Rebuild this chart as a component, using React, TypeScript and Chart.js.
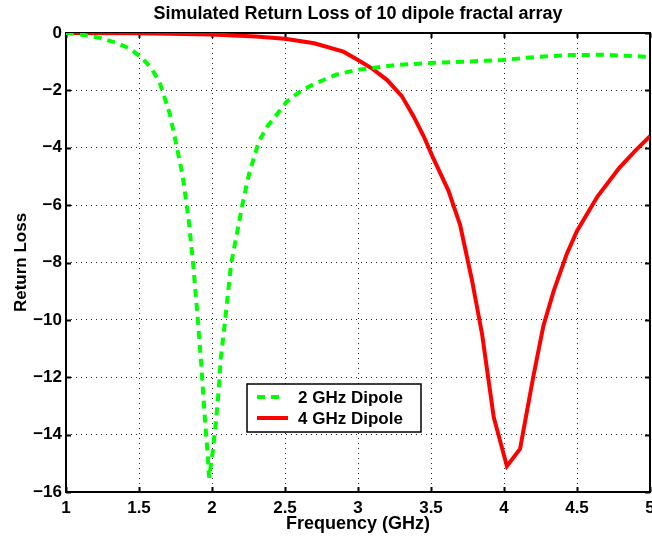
import React, { useEffect, useRef } from "react";
import { Chart, registerables } from "chart.js";

Chart.register(...registerables);

const chartTitle = "Simulated Return Loss of 10 dipole fractal array";
const xTitle = "Frequency (GHz)";
const yTitle = "Return Loss";
const xTicks = [1, 1.5, 2, 2.5, 3, 3.5, 4, 4.5, 5];
const yTicks = [-16, -14, -12, -10, -8, -6, -4, -2, 0];

const label2GHz = "2 GHz Dipole";
const freq2GHz = [
  1.0, 1.1, 1.23, 1.35, 1.44, 1.52, 1.58, 1.64, 1.71, 1.76, 1.8, 1.84, 1.87,
  1.9, 1.925, 1.94, 1.955, 1.97, 1.98, 2.005, 2.027, 2.046, 2.06, 2.084, 2.107,
  2.13, 2.169, 2.21, 2.255, 2.32, 2.38, 2.45, 2.51, 2.6, 2.69, 2.85, 2.99,
  3.27, 3.49, 3.72, 3.99, 4.23, 4.45, 4.68, 5.0,
];
const loss2GHz = [
  0, -0.05, -0.17, -0.35, -0.55, -0.87, -1.2, -1.7, -2.8, -4.0, -5.0, -6.5,
  -8.0, -9.8, -11.45, -12.6, -13.7, -14.64, -15.5, -14.6, -13.54, -12.44,
  -11.34, -10.29, -9.19, -8.08, -7.04, -5.93, -4.89, -3.79, -3.25, -2.8, -2.4,
  -2.05, -1.8, -1.45, -1.29, -1.11, -1.05, -1.0, -0.94, -0.83, -0.77, -0.76,
  -0.83,
];

const label4GHz = "4 GHz Dipole";
const freq4GHz = [
  1.0, 1.5, 2.0, 2.3, 2.5, 2.7, 2.9, 3.0, 3.1, 3.2, 3.3, 3.38, 3.45, 3.51,
  3.62, 3.7, 3.78, 3.85, 3.93, 4.02, 4.11, 4.2, 4.27, 4.34, 4.43, 4.5, 4.64,
  4.79, 4.9, 5.0,
];
const loss4GHz = [
  0, -0.01, -0.05, -0.12, -0.2, -0.36, -0.65, -0.94, -1.25, -1.64, -2.2, -2.9,
  -3.6, -4.3, -5.5, -6.7, -8.6, -10.5, -13.4, -15.1, -14.5, -12.0, -10.2, -9.0,
  -7.7, -6.9, -5.7, -4.7, -4.1, -3.6,
];

const FONT = "'Liberation Sans', Arial, Helvetica, sans-serif";

const fmt = (v: number) => String(v).replace("-", "\u2212");

const framePlugin = {
  id: "frame",
  beforeDatasetsDraw(chart: any) {
    const { ctx, chartArea: a, scales } = chart;
    const xs = scales.x;
    const ys = scales.y;
    ctx.save();
    ctx.strokeStyle = "#000";
    ctx.lineWidth = 2;
    ctx.beginPath();
    ctx.rect(a.left, a.top, a.right - a.left, a.bottom - a.top);
    ctx.stroke();
    const tl = 5;
    ctx.beginPath();
    for (const v of xTicks) {
      const px = Math.round(xs.getPixelForValue(v)) + 0.5;
      ctx.moveTo(px, a.bottom);
      ctx.lineTo(px, a.bottom - tl);
      ctx.moveTo(px, a.top);
      ctx.lineTo(px, a.top + tl);
    }
    for (const v of yTicks) {
      const py = Math.round(ys.getPixelForValue(v)) + 0.5;
      ctx.moveTo(a.left, py);
      ctx.lineTo(a.left + tl, py);
      ctx.moveTo(a.right, py);
      ctx.lineTo(a.right - tl, py);
    }
    ctx.stroke();
    ctx.restore();
  },
  afterDraw(chart: any) {
    const { ctx, chartArea: a } = chart;
    ctx.save();
    ctx.fillStyle = "#000";
    ctx.textAlign = "center";
    ctx.textBaseline = "alphabetic";
    ctx.font = `bold 18px ${FONT}`;
    ctx.fillText(chartTitle, (a.left + a.right) / 2, 19);
    ctx.font = `bold 18px ${FONT}`;
    ctx.fillText(xTitle, (a.left + a.right) / 2, 529);
    ctx.save();
    ctx.translate(26, (a.top + a.bottom) / 2);
    ctx.rotate(-Math.PI / 2);
    ctx.font = `bold 17px ${FONT}`;
    ctx.fillText(yTitle, 0, 0);
    ctx.restore();

    // legend
    const bx = 247, by = 384, bw = 174, bh = 48;
    ctx.fillStyle = "#fff";
    ctx.fillRect(bx, by, bw, bh);
    ctx.strokeStyle = "#000";
    ctx.lineWidth = 1.5;
    ctx.strokeRect(bx, by, bw, bh);
    const ds = chart.data.datasets;
    const rows = [397, 418];
    ds.forEach((d: any, i: number) => {
      const y = rows[i];
      ctx.save();
      ctx.strokeStyle = d.borderColor;
      ctx.lineWidth = d.borderWidth;
      ctx.setLineDash(d.borderDash || []);
      ctx.beginPath();
      ctx.moveTo(257, y);
      ctx.lineTo(i === 0 ? 282 : 288, y);
      ctx.stroke();
      ctx.restore();
      ctx.fillStyle = "#000";
      ctx.textAlign = "left";
      ctx.textBaseline = "middle";
      ctx.font = `bold 17px ${FONT}`;
      ctx.fillText(d.label, 298, y + 1);
    });
    ctx.restore();
  },
};

export default function App() {
  const ref = useRef<HTMLCanvasElement | null>(null);
  useEffect(() => {
    if (!ref.current) return;
    const chart = new Chart(ref.current, {
      type: "line",
      data: {
        datasets: [
          {
            label: label2GHz,
            data: freq2GHz.map((x, i) => ({ x, y: loss2GHz[i] })),
            borderColor: "#00ff00",
            borderWidth: 4,
            borderDash: [8, 6],
            pointRadius: 0,
            tension: 0,
            fill: false,
          },
          {
            label: label4GHz,
            data: freq4GHz.map((x, i) => ({ x, y: loss4GHz[i] })),
            borderColor: "#ff0000",
            borderWidth: 4,
            pointRadius: 0,
            tension: 0,
            fill: false,
          },
        ],
      },
      options: {
        animation: false,
        responsive: false,
        maintainAspectRatio: false,
        layout: { padding: { left: 0, right: 2, top: 33, bottom: 0 } },
        plugins: {
          legend: { display: false },
          title: { display: false },
          tooltip: { enabled: false },
        },
        scales: {
          x: {
            type: "linear",
            min: 1,
            max: 5,
            afterBuildTicks: (s: any) => {
              s.ticks = xTicks.map((v) => ({ value: v }));
            },
            afterFit: (s: any) => {
              s.height = 48;
              s.paddingLeft = 0;
              s.paddingRight = 0;
            },
            ticks: {
              autoSkip: false,
              maxRotation: 0,
              padding: 6,
              color: "#000",
              font: { family: FONT, size: 17, weight: "bold" },
              callback: (v: any) => fmt(Number(v)),
            },
            grid: {
              color: (c: any) =>
                c.tick && (c.tick.value === 1 || c.tick.value === 5)
                  ? "rgba(0,0,0,0)"
                  : "rgba(0,0,0,0.85)",
              lineWidth: 1,
              drawTicks: false,
            },
            border: { display: false, dash: [1, 4] },
          },
          y: {
            type: "linear",
            min: -16,
            max: 0,
            afterBuildTicks: (s: any) => {
              s.ticks = yTicks.map((v) => ({ value: v }));
            },
            afterFit: (s: any) => {
              s.width = 66;
              s.paddingTop = 0;
              s.paddingBottom = 0;
            },
            ticks: {
              autoSkip: false,
              padding: 4,
              color: "#000",
              font: { family: FONT, size: 17, weight: "bold" },
              callback: (v: any) => fmt(Number(v)),
            },
            grid: {
              color: (c: any) =>
                c.tick && (c.tick.value === 0 || c.tick.value === -16)
                  ? "rgba(0,0,0,0)"
                  : "rgba(0,0,0,0.85)",
              lineWidth: 1,
              drawTicks: false,
            },
            border: { display: false, dash: [1, 4] },
          },
        },
      },
      plugins: [framePlugin],
    } as any);
    return () => chart.destroy();
  }, []);
  return (
    <div style={{ position: "absolute", left: 0, top: 0, width: 652, height: 540, background: "#fff" }}>
      <canvas ref={ref} width={652} height={540} style={{ width: 652, height: 540 }} />
    </div>
  );
}
